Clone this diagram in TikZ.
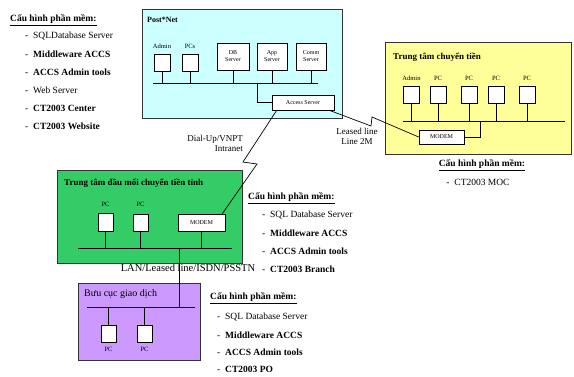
\documentclass[tikz,border=0pt]{standalone}
\usepackage{fontspec}
\setmainfont{Liberation Serif}
\usetikzlibrary{positioning}

\definecolor{postcyan}{RGB}{204,255,255}
\definecolor{moneyyellow}{RGB}{255,255,153}
\definecolor{hubgreen}{RGB}{51,204,102}
\definecolor{pomauve}{RGB}{204,153,255}

\newcommand{\cfghead}{\underline{\textbf{Cấu hình phần mềm:}}}
\newcommand{\dashitem}[1]{\makebox[8pt][l]{-}#1}

\tikzset{
  zone/.style={draw=black!80, line width=0.8pt},
  pc/.style={draw, fill=white, line width=0.6pt, inner sep=0pt, minimum width=16pt, minimum height=17pt},
  srv/.style={draw, fill=white, line width=0.6pt, inner sep=0pt, align=center, font=\fontsize{6}{7}\selectfont},
  tag/.style={font=\fontsize{6.5}{7}\selectfont, inner sep=0pt},
  title/.style={anchor=west, inner sep=0pt, font=\fontsize{9}{10}\selectfont\bfseries},
  cfg/.style={anchor=west, inner sep=0pt, font=\fontsize{9.5}{11}\selectfont},
  wire/.style={line width=0.7pt},
  linklbl/.style={inner sep=0pt, font=\fontsize{9}{10}\selectfont}
}

\begin{document}
\begin{tikzpicture}[x=1pt, y=-1pt]

  \useasboundingbox (0,0) rectangle (574,376);

  %% Post*Net

  % Zone
  \filldraw[zone, fill=postcyan] (142,9) rectangle (342,118);
  \node[title, font=\fontsize{8}{9}\selectfont\bfseries] (pntitle) at (147,20) {Post*Net};

  % Admin and PCs
  \node[pc] (pnadmin) at (162,62.5) {};
  \node[tag, above=5pt of pnadmin] (pnadminl) {Admin};
  \node[pc] (pnpcs) at (190,62.5) {};
  \node[tag, above=5pt of pnpcs] (pnpcsl) {PCs};

  % Servers
  \node[srv, minimum width=32pt, minimum height=27pt] (dbsrv) at (233,56.5) {DB\\Server};
  \node[srv, minimum width=30pt, minimum height=27pt] (appsrv) at (272,56.5) {App\\Server};
  \node[srv, minimum width=30pt, minimum height=27pt] (commsrv) at (311,56.5) {Comm\\Server};
  \node[srv, minimum width=62pt, minimum height=15pt] (accsrv) at (303,102.5) {Access Server};

  % Bus
  \coordinate (pnbusL) at (153,83);
  \coordinate (pnbusR) at (318,83);
  \draw[wire] (pnbusL) -- (pnbusR);
  \draw[wire] (pnadmin) -- (pnadmin |- pnbusL);
  \draw[wire] (pnpcs) -- (pnpcs |- pnbusL);
  \draw[wire] (dbsrv) -- (dbsrv |- pnbusL);
  \draw[wire] (appsrv) -- (appsrv |- pnbusL);
  \draw[wire] (commsrv) -- (commsrv |- pnbusL);
  \coordinate (pntap) at (257,83);
  \draw[wire] (pntap) |- (accsrv.west);

  %% Trung tam chuyen tien

  % Zone
  \filldraw[zone, fill=moneyyellow] (385,42) rectangle (571,154);
  \node[title] (ytitle) at (393,57) {Trung tâm chuyển tiền};

  % PCs
  \node[pc] (yadmin) at (411.5,94.5) {};
  \node[tag, above=5pt of yadmin] (yadminl) {Admin};
  \node[pc] (ypc1) at (438,94.5) {};
  \node[tag, above=5pt of ypc1] (ypc1l) {PC};
  \node[pc] (ypc2) at (469,94.5) {};
  \node[tag, above=5pt of ypc2] (ypc2l) {PC};
  \node[pc] (ypc3) at (496,94.5) {};
  \node[tag, above=5pt of ypc3] (ypc3l) {PC};
  \node[pc] (ypc4) at (527,94.5) {};
  \node[tag, above=5pt of ypc4] (ypc4l) {PC};

  % Modem
  \node[srv, minimum width=45pt, minimum height=14pt] (ymodem) at (441.5,137) {MODEM};

  % Bus
  \coordinate (ybusL) at (403,121);
  \coordinate (ybusR) at (565,121);
  \draw[wire] (ybusL) -- (ybusR);
  \draw[wire] (yadmin) -- (yadmin |- ybusL);
  \draw[wire] (ypc1) -- (ypc1 |- ybusL);
  \draw[wire] (ypc2) -- (ypc2 |- ybusL);
  \draw[wire] (ypc3) -- (ypc3 |- ybusL);
  \draw[wire] (ypc4) -- (ypc4 |- ybusL);
  \coordinate (ytap) at (480,121);
  \draw[wire] (ymodem.east) -| (ytap);

  % Software
  \node[cfg, anchor=center] (ycfg) at (482,165) {\cfghead};
  \node[cfg, anchor=center] (ycfg1) at (478,182) {\dashitem{CT2003 MOC}};

  %% Trung tam dau moi chuyen tien tinh

  % Zone
  \filldraw[zone, fill=hubgreen] (57,170) rectangle (242,263);
  \node[title] (gtitle) at (64,183) {Trung tâm đầu mối chuyển tiền tỉnh};

  % PCs and modem
  \node[pc, minimum width=15pt, minimum height=18pt] (gpc1) at (105.5,222) {};
  \node[tag, above=6pt of gpc1] (gpc1l) {PC};
  \node[pc, minimum width=15pt, minimum height=17pt] (gpc2) at (140.5,223) {};
  \node[tag, above=7pt of gpc2] (gpc2l) {PC};
  \node[srv, minimum width=47pt, minimum height=17pt] (gmodem) at (201.5,222.5) {MODEM};

  % Bus
  \coordinate (gbusL) at (78,248);
  \coordinate (gbusR) at (232,248);
  \draw[wire] (gbusL) -- (gbusR);
  \draw[wire] (gpc1) -- (gpc1 |- gbusL);
  \draw[wire] (gpc2) -- (gpc2 |- gbusL);
  \draw[wire] (gmodem) -- (gmodem |- gbusL);

  % Software
  \node[cfg] (gcfg) at (248,198) {\cfghead};
  \node[cfg] (gcfg1) at (262,215) {\dashitem{SQL Database Server}};
  \node[cfg] (gcfg2) at (262,233) {\dashitem{\textbf{Middleware ACCS}}};
  \node[cfg] (gcfg3) at (262,251) {\dashitem{\textbf{ACCS Admin tools}}};
  \node[cfg] (gcfg4) at (262,269) {\dashitem{\textbf{CT2003 Branch}}};

  %% Buu cuc giao dich

  % Zone
  \filldraw[zone, fill=pomauve] (78,283) rectangle (200,360);
  \node[title, font=\fontsize{10}{11}\selectfont] (ptitle) at (84,294) {Bưu cục giao dịch};

  % PCs
  \node[pc, minimum width=15pt] (ppc1) at (108.5,333.5) {};
  \node[tag, below=5pt of ppc1] (ppc1l) {PC};
  \node[pc, minimum width=15pt] (ppc2) at (144.5,333.5) {};
  \node[tag, below=5pt of ppc2] (ppc2l) {PC};

  % Bus
  \coordinate (pbusL) at (87,307);
  \coordinate (pbusR) at (195,307);
  \draw[wire] (pbusL) -- (pbusR);
  \draw[wire] (ppc1) -- (ppc1 |- pbusL);
  \draw[wire] (ppc2) -- (ppc2 |- pbusL);

  % Software
  \node[cfg] (pcfg) at (210,298) {\cfghead};
  \node[cfg] (pcfg1) at (217,317) {\dashitem{SQL Database Server}};
  \node[cfg] (pcfg2) at (217,335) {\dashitem{\textbf{Middleware ACCS}}};
  \node[cfg] (pcfg3) at (217,352) {\dashitem{\textbf{ACCS Admin tools}}};
  \node[cfg] (pcfg4) at (217,369) {\dashitem{\textbf{CT2003 PO}}};

  %% Post*Net software
  \node[cfg] (ncfg) at (10,20) {\cfghead};
  \node[cfg] (ncfg1) at (25,36) {\dashitem{SQLDatabase Server}};
  \node[cfg] (ncfg2) at (25,54) {\dashitem{\textbf{Middleware ACCS}}};
  \node[cfg] (ncfg3) at (25,72) {\dashitem{\textbf{ACCS Admin tools}}};
  \node[cfg] (ncfg4) at (25,90) {\dashitem{Web Server}};
  \node[cfg] (ncfg5) at (25,108) {\dashitem{\textbf{CT2003 Center}}};
  \node[cfg] (ncfg6) at (25,126) {\dashitem{\textbf{CT2003 Website}}};

  %% Links

  % LAN link between the two buses
  \coordinate (gtap) at (179,248);
  \draw[wire] (gtap) -- (gtap |- pbusL);
  \node[linklbl, font=\fontsize{10.5}{11}\selectfont] (lanl) at (188,268) {LAN/Leased line/ISDN/PSSTN};

  % Leased line to the money centre
  \coordinate (llA) at (371,126);
  \coordinate (llB) at (372,117);
  \draw[wire] ([xshift=-5pt]accsrv.south east) -- (llA) -- (llB) -- (ymodem.west);
  \node[linklbl, align=center] (lll) at (357,136) {Leased line\\Line 2M};

  % Dial-up to the provincial centre
  \coordinate (duA) at (243,162);
  \coordinate (duB) at (257,164);
  \draw[wire] ([xshift=5pt]accsrv.south west) -- (duA) -- (duB) -- ([xshift=-3pt]gmodem.north east);
  \node[linklbl, align=right, anchor=east] (dul) at (243,143) {Dial-Up/VNPT\\Intranet};

\end{tikzpicture}
\end{document}
